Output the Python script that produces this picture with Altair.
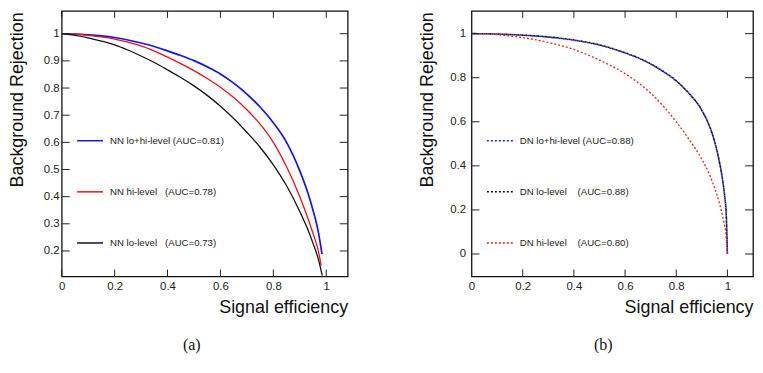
import altair as alt
import pandas as pd

# ---------------- panel (a): NN ----------------
A_NAMES = ["NN lo+hi-level (AUC=0.81)",
           "NN hi-level\u00a0\u00a0\u00a0(AUC=0.78)",
           "NN lo-level\u00a0\u00a0\u00a0(AUC=0.73)"]
A_COLORS = ["#1414f0", "#ee1010", "#111111"]

A_BLUE_X = [0, 0.05, 0.1, 0.15, 0.2, 0.25, 0.3, 0.35, 0.4, 0.45, 0.5, 0.55, 0.6, 0.65, 0.7, 0.75, 0.8, 0.85, 0.9, 0.93, 0.95, 0.97, 0.984]
A_BLUE_Y = [1, 0.999, 0.996, 0.992, 0.986, 0.977, 0.966, 0.953, 0.937, 0.92, 0.901, 0.878, 0.852, 0.818, 0.778, 0.73, 0.672, 0.6, 0.495, 0.415, 0.35, 0.27, 0.188]
A_RED_X = [0, 0.05, 0.1, 0.15, 0.2, 0.25, 0.3, 0.35, 0.4, 0.45, 0.5, 0.55, 0.6, 0.65, 0.7, 0.75, 0.8, 0.85, 0.9, 0.93, 0.95, 0.97, 0.981]
A_RED_Y = [1, 0.998, 0.994, 0.988, 0.98, 0.969, 0.955, 0.936, 0.914, 0.89, 0.864, 0.835, 0.803, 0.765, 0.72, 0.667, 0.6, 0.51, 0.4, 0.322, 0.265, 0.2, 0.146]
A_BLACK_X = [0, 0.05, 0.1, 0.15, 0.2, 0.25, 0.3, 0.35, 0.4, 0.45, 0.5, 0.55, 0.6, 0.65, 0.7, 0.75, 0.8, 0.85, 0.9, 0.93, 0.95, 0.97, 0.985]
A_BLACK_Y = [1, 0.994, 0.985, 0.973, 0.959, 0.94, 0.918, 0.894, 0.867, 0.839, 0.808, 0.773, 0.733, 0.688, 0.637, 0.582, 0.517, 0.44, 0.345, 0.28, 0.228, 0.17, 0.109]

A_XTICKS = [0, 0.2, 0.4, 0.6, 0.8, 1]
A_YTICKS = [0.2, 0.3, 0.4, 0.5, 0.6, 0.7, 0.8, 0.9, 1]
A_XDOM = [0, 1.081]
A_YDOM = [0.106, 1.084]

# ---------------- panel (b): DN ----------------
B_NAMES = ["DN lo+hi-level (AUC=0.88)",
           "DN lo-level\u00a0\u00a0\u00a0\u00a0(AUC=0.88)",
           "DN hi-level\u00a0\u00a0\u00a0\u00a0(AUC=0.80)"]
B_COLORS = ["#2020f0", "#111111", "#ee2020"]

B_BLUE_X = [0, 0.1, 0.2, 0.3, 0.4, 0.5, 0.6, 0.65, 0.7, 0.75, 0.8, 0.85, 0.9, 0.93, 0.95, 0.97, 0.98, 0.99, 0.995, 1.0]
B_BLUE_Y = [1, 0.998, 0.993, 0.984, 0.97, 0.948, 0.912, 0.89, 0.862, 0.827, 0.785, 0.728, 0.652, 0.58, 0.51, 0.41, 0.345, 0.255, 0.19, 0.0]
B_BLACK_X = [0, 0.1, 0.2, 0.3, 0.4, 0.5, 0.6, 0.65, 0.7, 0.75, 0.8, 0.85, 0.9, 0.93, 0.95, 0.97, 0.98, 0.99, 0.995, 1.0]
B_BLACK_Y = [1, 0.998, 0.993, 0.985, 0.971, 0.949, 0.913, 0.891, 0.863, 0.828, 0.786, 0.729, 0.652, 0.58, 0.51, 0.41, 0.345, 0.255, 0.19, 0.0]
B_RED_X = [0, 0.1, 0.2, 0.3, 0.4, 0.5, 0.6, 0.7, 0.8, 0.85, 0.9, 0.93, 0.95, 0.97, 0.985, 0.995, 1.0]
B_RED_Y = [1, 0.995, 0.982, 0.96, 0.928, 0.88, 0.818, 0.73, 0.6, 0.52, 0.43, 0.36, 0.3, 0.225, 0.15, 0.075, 0.0]

B_XTICKS = [0, 0.2, 0.4, 0.6, 0.8, 1]
B_YTICKS = [0, 0.2, 0.4, 0.6, 0.8, 1]
B_XDOM = [0, 1.1]
B_YDOM = [-0.102, 1.103]

FONT = "Liberation Sans"
H = 267


def series_df(names, xs, ys):
    rows = []
    for n, xv, yv in zip(names, xs, ys):
        for i, (a, b) in enumerate(zip(xv, yv)):
            rows.append({"series": n, "x": a, "y": b, "i": i})
    return pd.DataFrame(rows)


def panel(names, colors, xs, ys, xdom, ydom, xticks, yticks, W, dashed,
          ylabpad, caption, cap_dx, widths):
    sx = alt.Scale(domain=xdom, nice=False, zero=False)
    sy = alt.Scale(domain=ydom, nice=False, zero=False)
    xaxis = alt.Axis(values=xticks, format=".1~f", tickSize=0, domain=False,
                     grid=False, labelFont=FONT, labelFontSize=11.5,
                     labelColor="#222", labelPadding=4, labelFlush=False,
                     labelOverlap=False, title="Signal efficiency",
                     titleFont=FONT, titleFontSize=18, titleFontWeight="normal",
                     titleColor="#111", titleX=W, titleY=36, titleAlign="right",
                     titleBaseline="alphabetic")
    yaxis = alt.Axis(values=yticks, format=".1~f", tickSize=0, domain=False,
                     grid=False, labelFont=FONT, labelFontSize=11.5,
                     labelColor="#222", labelPadding=ylabpad, labelFlush=False,
                     labelOverlap=False, title="Background Rejection",
                     titleFont=FONT, titleFontSize=18, titleFontWeight="normal",
                     titleColor="#111", titleAngle=270, titleX=-39.5, titleY=1,
                     titleAlign="right", titleBaseline="alphabetic")
    X = alt.X("x:Q", scale=sx, axis=xaxis)
    Y = alt.Y("y:Q", scale=sy, axis=yaxis)
    legend = alt.Legend(orient="none", legendX=14.5, legendY=116.5, title=None,
                        symbolType="stroke", symbolSize=676,
                        symbolStrokeWidth=1.5, rowPadding=32.4,
                        labelFont=FONT, labelFontSize=9.7, labelColor="#222",
                        labelOffset=6, labelLimit=500, padding=0,
                        **({"symbolDash": [2, 2]} if dashed else {}))
    color = alt.Color("series:N", scale=alt.Scale(domain=names, range=colors),
                      legend=legend)
    df = series_df(names, xs, ys)
    layers = []
    for k, n in enumerate(names):
        props = dict(strokeWidth=widths[k], interpolate="monotone", clip=True)
        if dashed:
            props.update(strokeDash=[2, 2], strokeDashOffset=2 * (k % 2))
        layers.append(alt.Chart(df[df.series == n]).mark_line(**props).encode(
            x=X, y=Y, color=color, order="i:Q"))
    xt = pd.DataFrame({"x": xticks})
    yt = pd.DataFrame({"y": yticks})
    rule = dict(color="#222", strokeWidth=1)
    layers.append(alt.Chart(xt).mark_rule(**rule).encode(
        x=X, y=alt.value(H), y2=alt.value(H - 7)))
    layers.append(alt.Chart(xt).mark_rule(**rule).encode(
        x=X, y=alt.value(0), y2=alt.value(7)))
    layers.append(alt.Chart(yt).mark_rule(**rule).encode(
        y=Y, x=alt.value(0), x2=alt.value(8)))
    layers.append(alt.Chart(yt).mark_rule(**rule).encode(
        y=Y, x=alt.value(W), x2=alt.value(W - 8)))
    return alt.layer(*layers).properties(
        width=W, height=H,
        title=alt.TitleParams(text=caption, orient="bottom", anchor="middle",
                              frame="group", font="Liberation Serif",
                              fontSize=16, fontWeight="normal", color="#111",
                              offset=21, dx=cap_dx))


pa = panel(A_NAMES, A_COLORS, [A_BLUE_X, A_RED_X, A_BLACK_X],
           [A_BLUE_Y, A_RED_Y, A_BLACK_Y], A_XDOM, A_YDOM, A_XTICKS, A_YTICKS,
           287.5, False, 2.5, "(a)", -13, [1.7, 1.3, 1.3])
pb = panel(B_NAMES, B_COLORS, [B_BLUE_X, B_BLACK_X, B_RED_X],
           [B_BLUE_Y, B_BLACK_Y, B_RED_Y], B_XDOM, B_YDOM, B_XTICKS, B_YTICKS,
           283, True, 6, "(b)", -9, [1.6, 1.6, 1.3])

chart = alt.hconcat(pa, pb, spacing=68).resolve_scale(
    color="independent").properties(
    padding={"left": -1, "top": 0, "right": 0, "bottom": 0}).configure_view(
    stroke="#111", strokeWidth=1.3)

chart.save("out.html", embed_options={"renderer": "svg", "actions": False})
